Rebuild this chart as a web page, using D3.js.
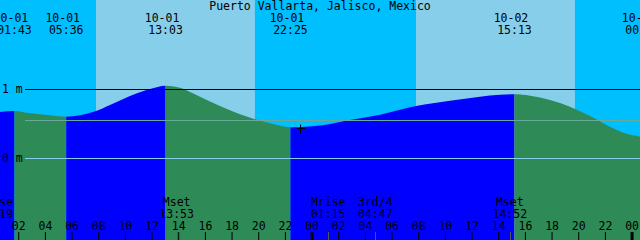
<!DOCTYPE html>
<html>
<head>
<meta charset="utf-8">
<script src="https://cdn.jsdelivr.net/npm/d3@7"></script>
<style>
body { margin: 0; background: #fff; }
svg { display: block; }
text { font-family: "DejaVu Sans Mono", monospace; font-size: 11.5px; fill: #000; }
</style>
</head>
<body>
<script>
// tide graph, Puerto Vallarta

var title = "Puerto Vallarta, Jalisco, Mexico";

// heights (metres)
var tideTimes = [
	"10-01 00:38", "10-01 01:43", "10-01 02:53", "10-01 04:23", "10-01 05:36",
	"10-01 06:38", "10-01 07:50", "10-01 08:53", "10-01 10:23", "10-01 11:53",
	"10-01 13:03", "10-01 14:08", "10-01 14:53", "10-01 15:38", "10-01 17:08",
	"10-01 18:38", "10-01 19:45", "10-01 20:53", "10-01 22:25", "10-02 00:38",
	"10-02 02:53", "10-02 05:08", "10-02 07:50", "10-02 10:23", "10-02 12:38",
	"10-02 14:08", "10-02 15:13", "10-02 16:23", "10-02 17:53", "10-02 19:23",
	"10-02 20:53", "10-02 22:23", "10-02 23:30", "10-03 00:38", "10-03 00:50"
];
var tideHeights = [
	0.667, 0.681, 0.648, 0.619, 0.599,
	0.619, 0.681, 0.768, 0.899, 1.000,
	1.048, 1.017, 0.957, 0.888, 0.754,
	0.633, 0.561, 0.503, 0.445, 0.471,
	0.551, 0.628, 0.754, 0.830, 0.888,
	0.917, 0.923, 0.903, 0.841, 0.743,
	0.609, 0.454, 0.358, 0.309, 0.300
];

// highs and lows
var extremeTimes = ["10-01 01:43", "10-01 05:36", "10-01 13:03", "10-01 22:25", "10-02 15:13", "10-03 00:50"];
var extremeTypes = ["H", "L", "H", "L", "H", "L"];

// sun
var sunrise = ["10-01 07:50", "10-02 07:50"];
var sunset = ["10-01 19:45", "10-02 19:45"];

// moon
var moonNames = ["Mrise", "Mset", "Mrise", "3rd/4", "Mset"];
var moonTimes = ["10-01 00:19", "10-01 13:53", "10-02 01:15", "10-02 04:47", "10-02 14:52"];

var meanLevel = 0.55;
var nowTime = "10-01 23:08";
var nowHeight = 0.435;

var startTime = "10-01 00:38";
var endTime = "10-03 00:38";

var W = 640, H = 240;
var parse = d3.timeParse("%m-%d %H:%M");

var x = d3.scaleTime()
	.domain([parse(startTime), parse(endTime)])
	.range([0, W]);
var y = d3.scaleLinear()
	.domain([0, 1])
	.range([158, 89]);

var svg = d3.select(document.body)
	.append("svg")
	.attr("width", W)
	.attr("height", H);

// night background, then day bands
svg.append("rect")
	.attr("width", W)
	.attr("height", H)
	.attr("fill", "#00bfff");

for (var i = 0; i < sunrise.length; i++) {
	var a = x(parse(sunrise[i])), b = x(parse(sunset[i]));
	svg.append("rect")
		.attr("x", a)
		.attr("y", 0)
		.attr("width", b - a)
		.attr("height", H)
		.attr("fill", "#87ceeb");
}

var tide = tideTimes.map(function (t, i) { return { t: parse(t), h: tideHeights[i] }; });

var area = d3.area()
	.x(function (d) { return x(d.t); })
	.y0(H)
	.y1(function (d) { return y(d.h); })
	.curve(d3.curveMonotoneX);

// rising = blue, falling = green. split at the extremes
var cuts = [parse(startTime)].concat(extremeTimes.map(parse));
cuts[cuts.length - 1] = d3.max([cuts[cuts.length - 1], parse(endTime)]);
var defs = svg.append("defs");
for (var k = 0; k < cuts.length - 1; k++) {
	var x0 = x(cuts[k]), x1 = x(cuts[k + 1]);
	if (k == 0) x0 = -5;
	defs.append("clipPath")
		.attr("id", "seg" + k)
		.append("rect")
		.attr("x", x0)
		.attr("y", 0)
		.attr("width", x1 - x0)
		.attr("height", H);
	// segment before a high is rising
	var rising = extremeTypes[k] == "H";
	svg.append("path")
		.datum(tide)
		.attr("clip-path", "url(#seg" + k + ")")
		.attr("fill", rising ? "#0000ff" : "#2e8b57")
		.attr("d", area);
}

// level lines
svg.append("line")
	.attr("x1", 25).attr("x2", W)
	.attr("y1", y(meanLevel)).attr("y2", y(meanLevel))
	.attr("stroke", "#66aa99")
	.attr("shape-rendering", "crispEdges");

var levels = y.ticks(1);
svg.selectAll(".level")
	.data(levels)
	.enter().append("line")
	.attr("class", "level")
	.attr("x1", 25).attr("x2", W)
	.attr("y1", function (d) { return Math.round(y(d)) + 0.5; })
	.attr("y2", function (d) { return Math.round(y(d)) + 0.5; })
	.attr("stroke", function (d) { return d == 0 ? "#87ceeb" : "#000"; });

svg.selectAll(".lvlabel")
	.data(levels)
	.enter().append("text")
	.attr("x", 2)
	.attr("y", function (d) { return y(d) + 4; })
	.text(function (d) { return d + " m"; });

// now marker
var nx = Math.round(x(parse(nowTime))) + 0.5, ny = Math.round(y(nowHeight)) + 0.5;
svg.append("path")
	.attr("d", "M" + (nx - 4) + "," + ny + "H" + (nx + 5) + "M" + nx + "," + (ny - 4) + "V" + (ny + 5))
	.attr("stroke", "#000")
	.attr("fill", "none");

// title
svg.append("text")
	.attr("x", W / 2)
	.attr("y", 10)
	.attr("text-anchor", "middle")
	.text(title);

// tide event labels on top
var fmtDate = d3.timeFormat("%m-%d"), fmtTime = d3.timeFormat("%H:%M");
extremeTimes.forEach(function (t) {
	var d = parse(t), ex = x(d);
	svg.append("text")
		.attr("x", ex - 3.5)
		.attr("y", 22)
		.attr("text-anchor", "middle")
		.text(fmtDate(d));
	svg.append("text")
		.attr("x", ex)
		.attr("y", 34)
		.attr("text-anchor", "middle")
		.text(fmtTime(d));
});

// moon events at the bottom
moonTimes.forEach(function (t, i) {
	var d = parse(t), mx = x(d);
	svg.append("text")
		.attr("x", mx)
		.attr("y", 206)
		.attr("text-anchor", "middle")
		.text(moonNames[i]);
	svg.append("text")
		.attr("x", mx)
		.attr("y", 218)
		.attr("text-anchor", "middle")
		.text(fmtTime(d));
	svg.append("line")
		.attr("x1", Math.round(mx) + 0.5).attr("x2", Math.round(mx) + 0.5)
		.attr("y1", 232).attr("y2", H)
		.attr("stroke", "#555");
});

// hour axis
var axis = d3.axisTop(x)
	.ticks(d3.timeHour.every(2))
	.tickFormat(d3.timeFormat("%H"))
	.tickSize(8)
	.tickPadding(2);

var gx = svg.append("g")
	.attr("transform", "translate(0," + H + ")")
	.call(axis);
gx.select(".domain").remove();
gx.selectAll("text")
	.attr("font-family", null)
	.attr("font-size", null)
	.attr("fill", "#000");
gx.selectAll(".tick line")
	.attr("stroke", "#000")
	.attr("stroke-width", function (d) { return d.getHours() == 0 ? 3 : 1; });
</script>
</body>
</html>
